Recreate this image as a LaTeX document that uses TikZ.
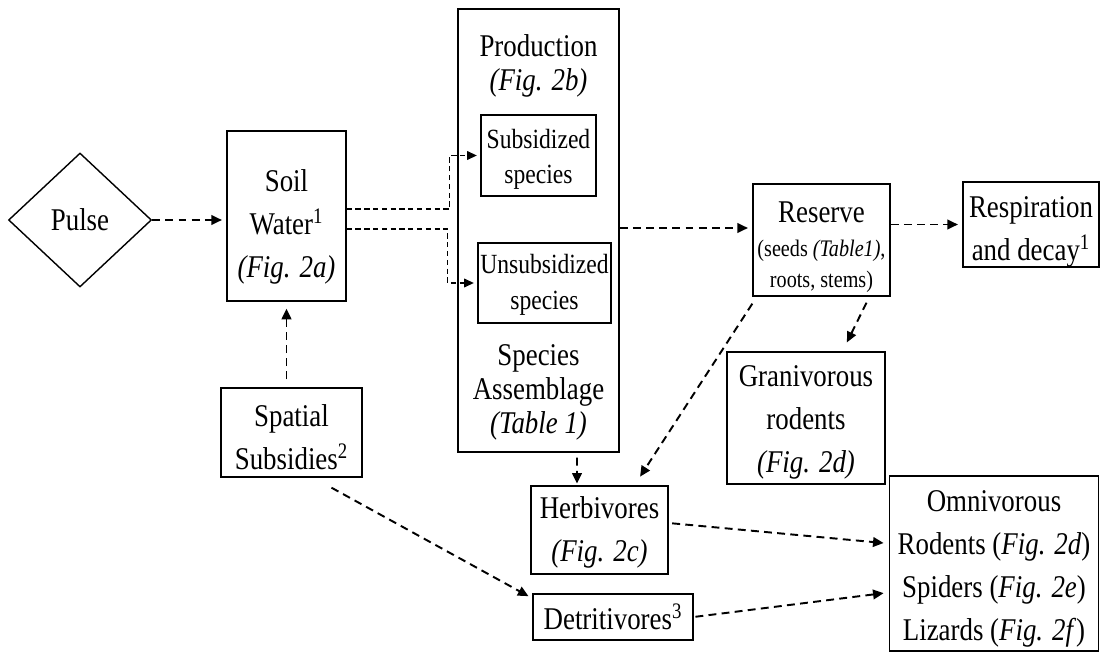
\documentclass[tikz,border=0pt]{standalone}
\usepackage{fontspec}
\setmainfont{Liberation Serif}[FakeStretch=0.85]
\usetikzlibrary{shapes.geometric,arrows.meta}

% invisible strut that pushes the first line down
\newcommand{\topgap}[1]{\rule{0pt}{#1}}

\begin{document}
\begin{tikzpicture}[
    x=0.02cm, y=-0.02cm,
    box/.style={rectangle, draw, line width=0.8pt, align=center, inner sep=0pt, font=\fontsize{18}{24.5}\selectfont},
    smallbox/.style={box, font=\fontsize{15.8}{20}\selectfont},
    lbl/.style={align=center, inner sep=0pt, font=\fontsize{18}{19.5}\selectfont},
    flow/.style={line width=1.1pt, dash pattern=on 4.5pt off 3pt, -{Triangle[length=6pt,width=5.5pt]}, shorten >=2.5pt},
    branch/.style={line width=0.6pt, dash pattern=on 3pt off 2pt, -{Triangle[length=5.5pt,width=5pt]}, shorten >=2pt}
]
    \useasboundingbox (0,0) rectangle (1100,652);

    \node [diamond, draw, line width=0.8pt, minimum width=2.86cm, minimum height=2.68cm, inner sep=0pt, font=\fontsize{18}{24.5}\selectfont] (pulse) at (80,220) {Pulse};
    \node [box, minimum width=2.38cm, minimum height=3.40cm] (soil) at (286.5,216) {\topgap{25pt}Soil\\Water\textsuperscript{1}\\\textit{(Fig. 2a)}};

    \node [box, minimum width=3.22cm, minimum height=8.86cm] (prod) at (538.5,230.5) {};
    \node [lbl, anchor=north] (prodtitle) at ([yshift=-0.52cm]prod.north) {Production\\\textit{(Fig. 2b)}};
    \node [lbl, anchor=south] (assemblage) at ([yshift=0.24cm]prod.south) {Species\\Assemblage\\\textit{(Table 1)}};
    \node [smallbox, minimum width=2.30cm, minimum height=1.62cm] (subs) at (538.5,155.5) {\topgap{15.4pt}Subsidized\\species};
    \node [smallbox, minimum width=2.66cm, minimum height=1.60cm] (unsubs) at (544.5,283) {\topgap{13pt}Unsubsidized\\species};

    \node [box, minimum width=2.74cm, minimum height=2.24cm, font=\fontsize{13.5}{17.5}\selectfont] (reserve) at (821.5,240) {\topgap{20pt}{\fontsize{18}{24.5}\selectfont Reserve}\\[2pt](seeds \textit{(Table1)},\\roots, stems)};
    \node [box, minimum width=2.72cm, minimum height=1.70cm] (resp) at (1031,224.5) {\topgap{20pt}Respiration\\and decay\textsuperscript{1}};
    \node [box, minimum width=2.82cm, minimum height=1.78cm] (spatial) at (291.5,432.5) {\topgap{18pt}Spatial\\Subsidies\textsuperscript{2}};
    \node [box, minimum width=2.74cm, minimum height=1.76cm] (herb) at (599.5,530) {\topgap{15.7pt}Herbivores\\\textit{(Fig. 2c)}};
    \node [box, minimum width=3.20cm, minimum height=0.92cm] (detr) at (613,617) {\topgap{14.5pt}Detritivores\textsuperscript{3}};
    \node [box, minimum width=3.16cm, minimum height=2.64cm] (gran) at (806,418) {\topgap{17pt}Granivorous\\rodents\\\textit{(Fig. 2d)}};
    \node [box, minimum width=4.18cm, minimum height=3.50cm] (omni) at (994,563.5) {\topgap{18pt}Omnivorous\\Rodents (\textit{Fig. 2d})\\Spiders (\textit{Fig. 2e})\\Lizards (\textit{Fig. 2f})};

    % Flows
    \draw [flow] (pulse.east) -- (pulse.east -| soil.west);
    \draw [branch] ([yshift=0.14cm]soil.east) -- ++(103,0) |- (subs.west);
    \draw [branch] ([yshift=-0.26cm]soil.east) -- ++(101,0) |- (unsubs.west);
    \draw [flow] ([yshift=0.05cm]prod.east) -- ([yshift=0.05cm]prod.east -| reserve.west);
    \draw [flow] (resp.west -| reserve.east) -- (resp.west);
    \draw [flow] ([yshift=-0.14cm]reserve.south west) -- ([xshift=-0.62cm,yshift=0.1cm]herb.north east);
    \draw [flow] ([xshift=0.9cm,yshift=-0.12cm]reserve.south) -- ([xshift=0.78cm,yshift=0.1cm]gran.north);
    \draw [flow, shorten >=1pt] ([xshift=0.77cm,yshift=-0.1cm]prod.south) -- ([xshift=-0.45cm]herb.north);
    \draw [flow, shorten <=4.5pt, shorten >=4pt] (spatial.north -| soil.south) -- (soil.south);
    \draw [flow] ([xshift=0.8cm,yshift=-0.2cm]spatial.south) -- ([yshift=-0.1cm]detr.north west);
    \draw [flow, shorten <=2pt, shorten >=3pt] ([yshift=0.14cm]herb.east) -- ([yshift=0.4cm]omni.west);
    \draw [flow, shorten <=1pt, shorten >=3pt] (detr.east) -- ([yshift=-0.58cm]omni.west);

\end{tikzpicture}
\end{document}
